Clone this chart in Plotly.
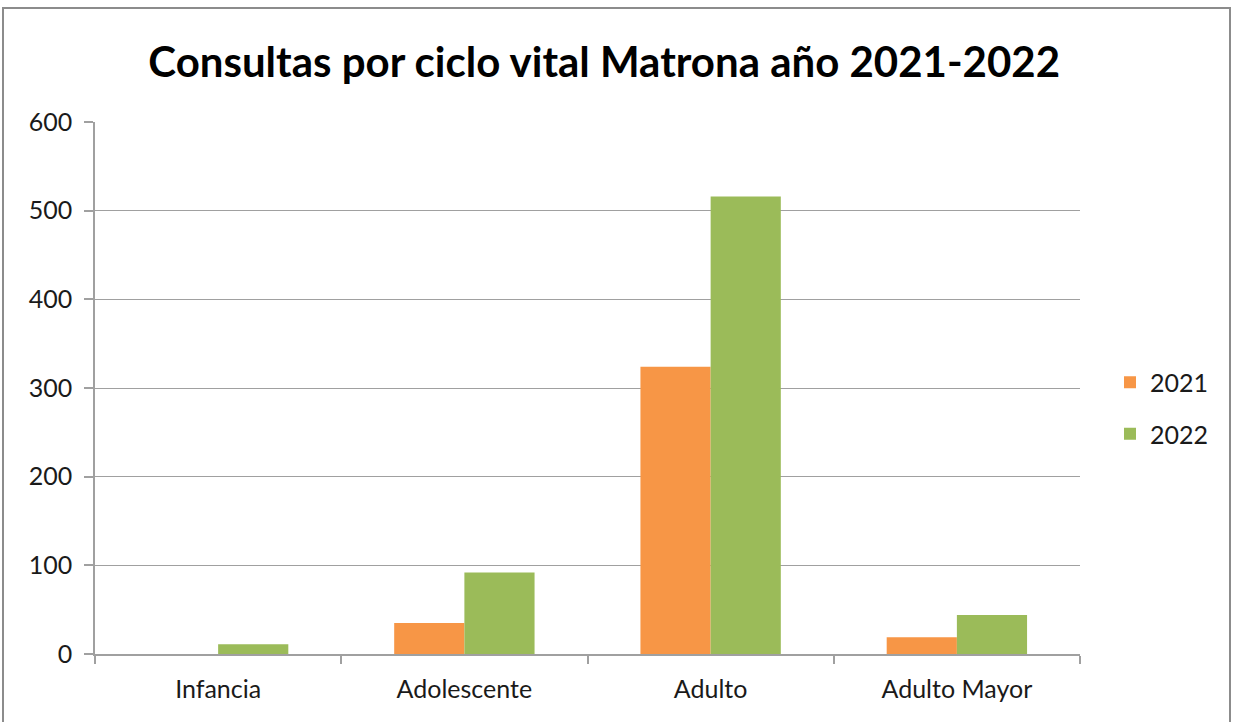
import plotly.graph_objects as go

# Consultas de matrona por ciclo vital, 2021 vs 2022
categorias = ["Infancia", "Adolescente", "Adulto", "Adulto Mayor"]
consultas_2021 = [0, 35, 324, 19]
consultas_2022 = [11, 92, 516, 44]
y_ticks = [0, 100, 200, 300, 400, 500, 600]

FONT = "Lato"
W, H = 1233, 722
L, R, T, B = 95, 153, 122, 68

fig = go.Figure()
fig.add_trace(go.Bar(name="2021", x=categorias, y=consultas_2021,
                     marker=dict(color="#F79646", line=dict(width=0)),
                     legendgroup="a"))
fig.add_trace(go.Bar(name="2022", x=categorias, y=consultas_2022,
                     marker=dict(color="#9BBB59", line=dict(width=0)),
                     legendgroup="b"))

pw = W - L - R
ph = H - T - B

def px_x(px):
    return (px - L) / pw

def px_y(py):
    return (H - B - py) / ph

fig.update_layout(
    width=W, height=H,
    margin=dict(l=L, r=R, t=T, b=B),
    paper_bgcolor="white", plot_bgcolor="white",
    barmode="group", bargap=0.43, bargroupgap=0,
    font=dict(family=FONT, size=25, color="#1A1A1A"),
    title=dict(text="<b>Consultas por ciclo vital Matrona año 2021-2022</b>",
               x=0.49, xanchor="center", y=1 - 62 / H, yanchor="middle",
               font=dict(family=FONT, size=42, color="#000000")),
    legend=dict(x=px_x(1110), xanchor="left", y=px_y(408), yanchor="middle",
                font=dict(size=25, color="#1A1A1A"), tracegroupgap=16,
                itemwidth=30, bgcolor="rgba(0,0,0,0)"),
    showlegend=True,
    xaxis=dict(type="category", showline=True, linecolor="#A0A0A0", linewidth=1.5,
               ticks="outside", tickson="boundaries", ticklen=8,
               tickcolor="#A0A0A0", tickwidth=1.5, showgrid=False,
               ticklabelstandoff=12,
               tickfont=dict(size=25, color="#1A1A1A")),
    yaxis=dict(range=[0, 600], tickvals=y_ticks, showline=True,
               linecolor="#A0A0A0", linewidth=1.5, ticks="outside", ticklen=9,
               tickcolor="#A0A0A0", tickwidth=1.5, showgrid=True,
               gridcolor="#A0A0A0", gridwidth=1.2, zeroline=False,
               ticklabelstandoff=7,
               tickfont=dict(size=25, color="#1A1A1A")),
    shapes=[dict(type="rect", xref="paper", yref="paper",
                 x0=px_x(3), x1=px_x(1230), y0=px_y(730), y1=px_y(8),
                 line=dict(color="#8C8C8C", width=2), fillcolor="rgba(0,0,0,0)",
                 layer="below")],
)

fig.write_html("out.html")
